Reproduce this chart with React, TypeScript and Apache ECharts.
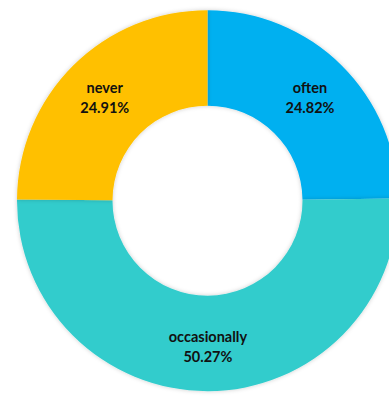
import React, { useEffect, useRef } from "react";
import * as echarts from "echarts";

const categories = ["often", "occasionally", "never"];
const values = [24.82, 50.27, 24.91];
const colors = ["#00B0F0", "#33CCCC", "#FFC000"];

export default function App() {
  const ref = useRef<HTMLDivElement>(null);
  useEffect(() => {
    const chart = echarts.init(ref.current!, null, { renderer: "svg" });
    chart.setOption({
      animation: false,
      series: [
        {
          type: "pie",
          center: [207.5, 200.7],
          radius: [95, 190.5],
          startAngle: 90,
          clockwise: true,
          avoidLabelOverlap: false,
          data: categories.map((c, i) => ({
            name: c,
            value: values[i],
            itemStyle: { color: colors[i] },
          })),
          itemStyle: {
            shadowBlur: 4,
            shadowColor: "rgba(0,0,0,0.2)",
          },
          label: {
            show: true,
            position: "inside",
            formatter: (p: any) => `${p.name}\n${p.value.toFixed(2)}%`,
            fontFamily: "Lato",
            fontWeight: "bold",
            fontSize: 14.5,
            lineHeight: 20,
            color: "#111",
          },
          labelLine: { show: false },
          emphasis: { disabled: true },
        },
      ],
    });
    return () => chart.dispose();
  }, []);
  return (
    <div
      ref={ref}
      style={{ position: "fixed", left: 0, top: 0, width: 389, height: 397, background: "#fff" }}
    />
  );
}
